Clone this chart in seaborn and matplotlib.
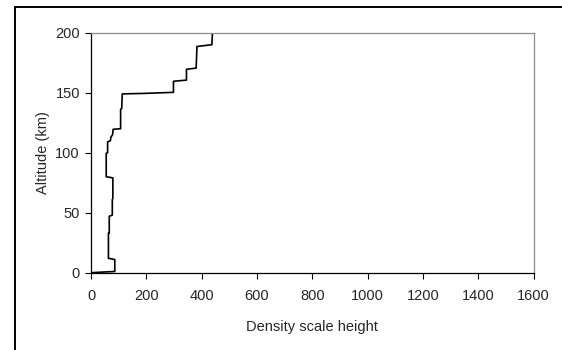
import numpy as np
import pandas as pd
import matplotlib
matplotlib.use("Agg")
import matplotlib.pyplot as plt
import seaborn as sns
from matplotlib.lines import Line2D

# Perfil escalonado (altura de escala de densidad vs altitud)
density_scale_height = [0, 40, 86, 86, 63, 63, 66, 66, 77, 77, 79, 79, 55, 55,
                        60, 60, 70, 72, 78, 80, 107, 107, 111, 113, 190, 298,
                        298, 345, 345, 380, 383, 437, 439]
altitude_km = [0, 0.5, 1, 11, 12, 33, 33, 47, 48, 61, 62, 79, 80, 99.5,
               100, 109, 110, 113, 115, 119.5, 120, 136, 137, 149, 149.4, 150.3,
               159.5, 160.5, 169.5, 170.5, 188.5, 190, 200]

x_ticks = [0, 200, 400, 600, 800, 1000, 1200, 1400, 1600]
y_ticks = [0, 50, 100, 150, 200]

df = pd.DataFrame({"dsh": density_scale_height, "alt": altitude_km})

sns.set_style("white")
plt.rcParams["font.family"] = ["Liberation Sans", "DejaVu Sans"]

fig = plt.figure(figsize=(5.62, 3.5), dpi=100)
ax = fig.add_axes([91 / 562, 1 - 272.7 / 350, (533.7 - 91) / 562, (272.7 - 32.7) / 350])

sns.lineplot(data=df, x="dsh", y="alt", sort=False, estimator=None,
             color="black", linewidth=1.2, ax=ax)

ax.set_xlim(0, 1600)
ax.set_ylim(0, 200)
ax.set_xticks(x_ticks)
ax.set_yticks(y_ticks)
ax.tick_params(axis="both", direction="out", length=4, width=0.8,
               labelsize=10.5, color="black", left=True, bottom=True)
ax.tick_params(axis="x", pad=8)
ax.tick_params(axis="y", pad=4)
ax.set_xlabel("Density scale height", fontsize=10.5, labelpad=12)
ax.set_ylabel("Altitude (km)", fontsize=10.5, labelpad=4)

for side in ["left", "bottom"]:
    ax.spines[side].set_color("black")
    ax.spines[side].set_linewidth(0.9)
for side in ["top", "right"]:
    ax.spines[side].set_color("#8c8c8c")
    ax.spines[side].set_linewidth(0.9)

# marco exterior del gráfico (recortado por el borde)
fx = 14.5 / 562
fy = 1 - 6.7 / 350
fig.add_artist(Line2D([fx, fx], [0, fy], transform=fig.transFigure,
                      color="black", linewidth=1.4))
fig.add_artist(Line2D([fx, 1], [fy, fy], transform=fig.transFigure,
                      color="black", linewidth=1.4))

fig.savefig("out.png", dpi=100)
